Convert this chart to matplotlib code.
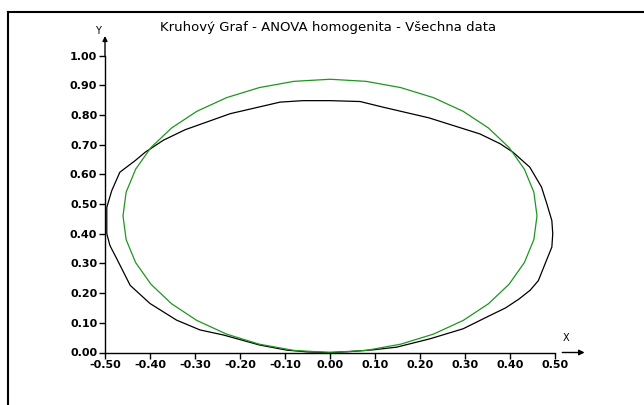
import matplotlib
matplotlib.use("Agg")
import matplotlib.pyplot as plt
from matplotlib.lines import Line2D
from matplotlib.ticker import FormatStrFormatter

plt.rcParams['font.family'] = ['DejaVu Sans']
plt.rcParams['axes.unicode_minus'] = False

title = "Kruhový Graf - ANOVA homogenita - Všechna data"

# black curve (data)
black_x = [0.00, 0.044, 0.096, 0.148, 0.222, 0.296, 0.356, 0.390, 0.420, 0.445,
           0.463, 0.481, 0.493, 0.495, 0.493, 0.482, 0.470, 0.444, 0.407, 0.378,
           0.333, 0.220, 0.118, 0.067, 0.000, -0.060, -0.111, -0.222, -0.322, -0.370,
           -0.411, -0.433, -0.467, -0.485, -0.496, -0.496, -0.489, -0.474, -0.444, -0.400,
           -0.341, -0.289, -0.237, -0.156, -0.096, -0.050, 0.00]
black_y = [0.000, 0.003, 0.009, 0.018, 0.046, 0.080, 0.125, 0.150, 0.180, 0.210,
           0.242, 0.310, 0.355, 0.400, 0.444, 0.500, 0.557, 0.624, 0.674, 0.703,
           0.736, 0.790, 0.826, 0.845, 0.848, 0.848, 0.843, 0.804, 0.750, 0.715,
           0.674, 0.646, 0.607, 0.545, 0.489, 0.400, 0.360, 0.316, 0.226, 0.165,
           0.109, 0.076, 0.059, 0.025, 0.008, 0.002, 0.000]

# green curve (reference circle)
green_x = [0.000, 0.080, 0.157, 0.230, 0.296, 0.352, 0.398, 0.432, 0.453, 0.460,
           0.453, 0.432, 0.398, 0.352, 0.296, 0.230, 0.157, 0.080, 0.000, -0.080,
           -0.157, -0.230, -0.296, -0.352, -0.398, -0.432, -0.453, -0.460, -0.453, -0.432,
           -0.398, -0.352, -0.296, -0.230, -0.157, -0.080, 0.000]
green_y = [0.000, 0.007, 0.028, 0.062, 0.108, 0.164, 0.230, 0.303, 0.380, 0.460,
           0.540, 0.617, 0.690, 0.756, 0.812, 0.858, 0.892, 0.913, 0.920, 0.913,
           0.892, 0.858, 0.812, 0.756, 0.690, 0.617, 0.540, 0.460, 0.380, 0.303,
           0.230, 0.164, 0.108, 0.062, 0.028, 0.007, 0.000]

x_ticks = [-0.5, -0.4, -0.3, -0.2, -0.1, 0.0, 0.1, 0.2, 0.3, 0.4, 0.5]
y_ticks = [0.0, 0.1, 0.2, 0.3, 0.4, 0.5, 0.6, 0.7, 0.8, 0.9, 1.0]

W, H = 644, 405
fig = plt.figure(figsize=(W / 100, H / 100), dpi=100)
ax = fig.add_axes([105 / W, (H - 352.5) / H, 450 / W, 297 / H])

ax.plot(black_x, black_y, color='black', lw=0.9)
ax.plot(green_x, green_y, color='#1e961e', lw=0.9)

ax.set_xlim(-0.5, 0.5)
ax.set_ylim(0, 1)
ax.set_xticks(x_ticks)
ax.set_yticks(y_ticks)
ax.xaxis.set_major_formatter(FormatStrFormatter('%.2f'))
ax.yaxis.set_major_formatter(FormatStrFormatter('%.2f'))
ax.tick_params(direction='out', length=4, width=1, labelsize=8, pad=1.5, colors='black')
for lab in ax.get_xticklabels() + ax.get_yticklabels():
    lab.set_fontweight('bold')
for s in ['top', 'right']:
    ax.spines[s].set_visible(False)
for s in ['left', 'bottom']:
    ax.spines[s].set_linewidth(1)

# axis arrows
ax.annotate('', xy=(1.072, 0), xytext=(1.01, 0), xycoords='axes fraction',
            arrowprops=dict(arrowstyle='-|>', color='black', lw=1, mutation_scale=8))
ax.annotate('', xy=(0, 1.075), xytext=(0, 0.99), xycoords='axes fraction',
            arrowprops=dict(arrowstyle='-|>', color='black', lw=1, mutation_scale=7))
fig.text(566 / W, 1 - 338 / H, 'X', ha='center', va='center', fontsize=7)
fig.text(98 / W, 1 - 31 / H, 'Y', ha='center', va='center', fontsize=7)

fig.text(328 / W, 1 - 28 / H, title, ha='center', va='center', fontsize=9.5)

# outer frame
fig.add_artist(Line2D([8 / W, 1], [1 - 12 / H, 1 - 12 / H], color='black', lw=1.5))
fig.add_artist(Line2D([8 / W, 8 / W], [0, 1 - 12 / H], color='black', lw=1.5))

fig.savefig('out.png', dpi=100)
